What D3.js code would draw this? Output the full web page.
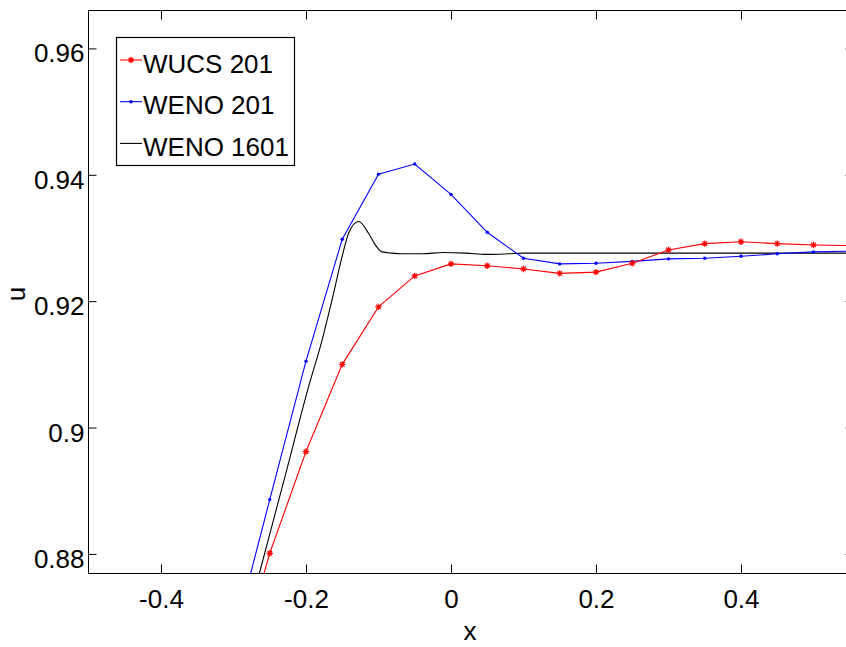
<!DOCTYPE html>
<html lang="en">
<head>
  <meta charset="UTF-8">
  <title>WUCS vs WENO</title>
  <script src="https://d3js.org/d3.v7.min.js"></script>
  <style>
    body { margin: 0; background: #fff; }
    text { font-family: "Liberation Sans", Arial, sans-serif; }
  </style>
</head>
<body>
  <div id="chart"></div>

  <script>
    // grid of the 201-point runs (only the part in view)
    const x201 = [-0.3, -0.25, -0.2, -0.15, -0.1, -0.05, 0, 0.05, 0.1, 0.15,
                  0.2, 0.25, 0.3, 0.35, 0.4, 0.45, 0.5, 0.55];
    const wucs201 = [0.8599, 0.8801, 0.8962, 0.9100, 0.9191, 0.9240, 0.9259, 0.9256, 0.9251, 0.9244,
                     0.9246, 0.9260, 0.9281, 0.9291, 0.9294, 0.9291, 0.9289, 0.9288];
    const weno201 = [0.8664, 0.8886, 0.9105, 0.9298, 0.9401, 0.9417, 0.9369, 0.9309, 0.9268, 0.9259,
                     0.9260, 0.9263, 0.9267, 0.9268, 0.9271, 0.9275, 0.9278, 0.9279];

    // reference solution
    const x1601 = [-0.28, -0.2644, -0.23, -0.1963, -0.1779, -0.1641, -0.1503, -0.1411, -0.1273,
                   -0.1135, -0.1044, -0.0952, -0.0814, -0.0676, -0.04, -0.01, 0.02, 0.05, 0.08,
                   0.1, 0.2, 0.3, 0.4, 0.56];
    const weno1601 = [0.8701, 0.8769, 0.8918, 0.9065, 0.9138, 0.9202, 0.9270, 0.9308, 0.9326,
                      0.9307, 0.9289, 0.9278, 0.9276, 0.9275, 0.9275, 0.9277, 0.9276, 0.9274, 0.9275,
                      0.9276, 0.9276, 0.9276, 0.9276, 0.9276];

    const xTicks = [-0.4, -0.2, 0, 0.2, 0.4];
    const xTickLabels = ["-0.4", "-0.2", "0", "0.2", "0.4"];
    const yTicks = [0.88, 0.9, 0.92, 0.94, 0.96];
    const yTickLabels = ["0.88", "0.9", "0.92", "0.94", "0.96"];

    const seriesNames = ["WUCS 201", "WENO 201", "WENO 1601"];
    const seriesColors = ["#ff0000", "#0000ff", "#000000"];

    const width = 846, height = 647;
    const m = {left: 88.5, right: 853.5, top: 10.5, bottom: 573.5};

    const x = d3.scaleLinear().domain([-0.5, 0.5552]).range([m.left, m.right]);
    const y = d3.scaleLinear().domain([0.8769, 0.966]).range([m.bottom, m.top]);

    const svg = d3.select("#chart").append("svg")
      .attr("width", width)
      .attr("height", height);

    svg.append("defs").append("clipPath")
      .attr("id", "plotClip")
      .append("rect")
        .attr("x", m.left).attr("y", m.top)
        .attr("width", m.right - m.left).attr("height", m.bottom - m.top);

    // axes (MATLAB style: ticks point inward on all four sides)
    svg.append("g")
      .attr("transform", `translate(0,${m.bottom})`)
      .call(d3.axisBottom(x).tickValues(xTicks).tickSizeInner(-9).tickSizeOuter(0).tickPadding(16)
        .tickFormat((d, i) => xTickLabels[i]));
    svg.append("g")
      .attr("transform", `translate(0,${m.top})`)
      .call(d3.axisTop(x).tickValues(xTicks).tickSizeInner(-9).tickSizeOuter(0).tickFormat(""));
    const yAxisL = svg.append("g")
      .attr("transform", `translate(${m.left},0)`)
      .call(d3.axisLeft(y).tickValues(yTicks).tickSizeInner(-8).tickSizeOuter(0).tickPadding(4)
        .tickFormat((d, i) => yTickLabels[i]));
    svg.append("g")
      .attr("transform", `translate(${m.right},0)`)
      .call(d3.axisRight(y).tickValues(yTicks).tickSizeInner(-8).tickSizeOuter(0).tickFormat(""));

    svg.selectAll(".domain").remove();
    svg.selectAll(".tick line").attr("stroke", "#000").attr("stroke-width", 1);
    svg.selectAll(".tick text").attr("fill", "#000").style("font-size", "26px")
      .style("font-family", "'Liberation Sans', Arial, sans-serif");
    yAxisL.selectAll(".tick text").attr("dy", "0.52em");

    // frame
    svg.append("rect")
      .attr("x", m.left).attr("y", m.top)
      .attr("width", m.right - m.left).attr("height", m.bottom - m.top)
      .attr("fill", "none")
      .attr("stroke", "#000")
      .attr("stroke-width", 1);

    // axis titles
    svg.append("text")
      .attr("x", 470).attr("y", 640)
      .attr("text-anchor", "middle")
      .style("font-size", "26px")
      .text("x");
    svg.append("text")
      .attr("transform", "translate(25,294) rotate(-90)")
      .attr("text-anchor", "middle")
      .style("font-size", "26px")
      .text("u");

    // data
    const plot = svg.append("g").attr("clip-path", "url(#plotClip)");

    const line = d3.line().x(d => x(d[0])).y(d => y(d[1]));
    const smooth = d3.line().x(d => x(d[0])).y(d => y(d[1])).curve(d3.curveMonotoneX);

    const wucsPts = x201.map((v, i) => [v, wucs201[i]]);
    const wenoPts = x201.map((v, i) => [v, weno201[i]]);
    const finePts = x1601.map((v, i) => [v, weno1601[i]]);

    plot.append("path").datum(finePts)
      .attr("d", smooth).attr("fill", "none")
      .attr("stroke", seriesColors[2]).attr("stroke-width", 1.1);
    plot.append("path").datum(wenoPts)
      .attr("d", line).attr("fill", "none")
      .attr("stroke", seriesColors[1]).attr("stroke-width", 1.1);
    plot.append("path").datum(wucsPts)
      .attr("d", line).attr("fill", "none")
      .attr("stroke", seriesColors[0]).attr("stroke-width", 1.1);

    // markers
    const star = s => `M${-s},0H${s}M0,${-s}V${s}M${-s * 0.7},${-s * 0.7}L${s * 0.7},${s * 0.7}M${-s * 0.7},${s * 0.7}L${s * 0.7},${-s * 0.7}`;

    plot.append("g").selectAll("circle")
      .data(wenoPts)
      .join("circle")
        .attr("cx", d => x(d[0]))
        .attr("cy", d => y(d[1]))
        .attr("r", 1.7)
        .attr("fill", seriesColors[1]);

    plot.append("g").selectAll("path")
      .data(wucsPts)
      .join("path")
        .attr("transform", d => `translate(${x(d[0])},${y(d[1])})`)
        .attr("d", star(3.2))
        .attr("stroke", seriesColors[0])
        .attr("stroke-width", 1.2)
        .attr("fill", "none");

    // legend
    const lg = svg.append("g");
    lg.append("rect")
      .attr("x", 116.5).attr("y", 37.5)
      .attr("width", 178).attr("height", 128)
      .attr("fill", "#fff")
      .attr("stroke", "#000")
      .attr("stroke-width", 1.2);

    seriesNames.forEach((name, i) => {
      const ly = 60 + i * 41.7;
      lg.append("line")
        .attr("x1", 120).attr("x2", 142)
        .attr("y1", ly).attr("y2", ly)
        .attr("stroke", seriesColors[i])
        .attr("stroke-width", 1.1);
      if (i === 0) {
        lg.append("path")
          .attr("transform", `translate(131,${ly})`)
          .attr("d", star(3.2))
          .attr("stroke", seriesColors[0])
          .attr("stroke-width", 1.2)
          .attr("fill", "none");
      } else if (i === 1) {
        lg.append("circle")
          .attr("cx", 131).attr("cy", ly).attr("r", 1.7)
          .attr("fill", seriesColors[1]);
      }
      lg.append("text")
        .attr("x", 143).attr("y", ly + 12.7)
        .style("font-size", "26px")
        .text(name);
    });
  </script>
</body>
</html>
